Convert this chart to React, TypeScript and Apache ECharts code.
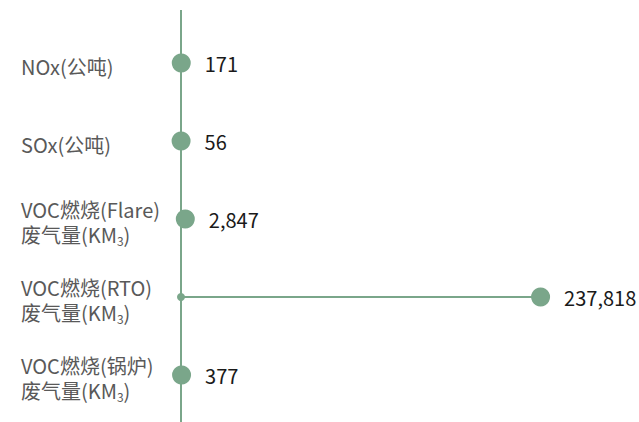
import React, { useEffect, useRef } from "react";
import * as echarts from "echarts";

const categories = [
  "NOx(公吨)",
  "SOx(公吨)",
  "VOC燃烧(Flare)\n废气量(KM{sub|3})",
  "VOC燃烧(RTO)\n废气量(KM{sub|3})",
  "VOC燃烧(锅炉)\n废气量(KM{sub|3})",
];
const values = [171, 56, 2847, 237818, 377];

const GREEN = "#7aa68a";

export default function App() {
  const ref = useRef<HTMLDivElement>(null);
  useEffect(() => {
    if (!ref.current) return;
    const chart = echarts.init(ref.current, null, { renderer: "svg" });
    chart.setOption({
      animation: false,
      backgroundColor: "#ffffff",
      grid: { left: 181, right: 80, top: 24, bottom: 8, containLabel: false },
      xAxis: {
        type: "value",
        min: 0,
        max: 250000,
        show: false,
      },
      yAxis: {
        type: "category",
        data: categories,
        inverse: true,
        axisLine: { show: false },
        axisTick: { show: false },
        axisLabel: {
          align: "left",
          margin: 160,
          fontSize: 20,
          lineHeight: 25,
          color: "#595959",
          fontFamily: "Noto Sans CJK SC",
          padding: [6, 0, 0, 0],
          rich: {
            sub: {
              fontSize: 12,
              lineHeight: 20,
              verticalAlign: "bottom",
              color: "#595959",
              fontFamily: "Noto Sans CJK SC",
            },
          },
        },
      },
      graphic: [
        {
          type: "line",
          shape: { x1: 181, y1: 10, x2: 181, y2: 422 },
          style: { stroke: GREEN, lineWidth: 2 },
          z: 0,
        },
      ],
      series: [
        {
          type: "bar",
          data: values,
          barWidth: 2,
          itemStyle: { color: GREEN },
          silent: true,
          z: 1,
        },
        {
          type: "scatter",
          data: values.map(() => 0),
          symbolSize: 8,
          itemStyle: { color: GREEN, opacity: 1 },
          silent: true,
          z: 2,
        },
        {
          type: "scatter",
          data: values,
          symbolSize: 19,
          itemStyle: { color: GREEN, opacity: 1 },
          z: 3,
          label: {
            show: true,
            position: "right",
            distance: 14,
            fontSize: 20,
            color: "#1a1a1a",
            fontFamily: "Noto Sans CJK SC",
            formatter: (p: any) => Number(p.value).toLocaleString("en-US"),
          },
        },
      ],
    });
    return () => chart.dispose();
  }, []);
  return (
    <div
      ref={ref}
      style={{ position: "fixed", left: 0, top: 0, width: 639, height: 422 }}
    />
  );
}
